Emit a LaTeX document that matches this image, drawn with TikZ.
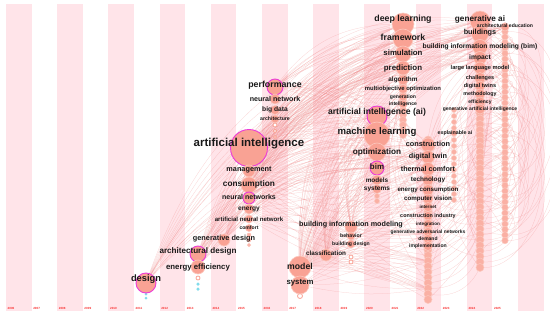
\documentclass[tikz,border=0pt]{standalone}
\usepackage{fontspec}
\setmainfont{Liberation Sans}

\pgfdeclarelayer{bg}
\pgfdeclarelayer{edges}
\pgfsetlayers{bg,edges,main}

\definecolor{stripe}{RGB}{255,228,233}
\definecolor{nodefill}{RGB}{249,162,148}
\definecolor{noderim}{RGB}{252,200,190}
\definecolor{burst}{RGB}{236,60,215}
\definecolor{linkc}{RGB}{242,140,140}
\definecolor{yearc}{RGB}{250,50,50}
\definecolor{cyanc}{RGB}{130,220,235}
\definecolor{txt}{RGB}{25,25,25}

\begin{document}
\begin{tikzpicture}[x=1pt, y=-1pt,
  kw/.style={circle, fill=nodefill, draw=noderim, line width=0.6pt, inner sep=0pt, minimum size=#1},
  hot/.style={circle, fill=nodefill, draw=burst, line width=0.9pt, inner sep=0pt, minimum size=#1},
  dot/.style={circle, fill=nodefill!85, draw=noderim, line width=0.5pt, inner sep=0pt, minimum size=#1},
  ring/.style={circle, fill=white, draw=nodefill, line width=0.8pt, inner sep=0pt, minimum size=#1},
  cold/.style={circle, fill=cyanc, inner sep=0pt, minimum size=#1},
  lbl/.style={inner sep=0pt, text=txt, font=\bfseries\fontsize{#1}{#1}\selectfont},
  link/.style={draw=linkc, line width=0.25pt, opacity=0.4},
  year/.style={anchor=west, inner sep=0pt, text=yearc, font=\bfseries\fontsize{3}{3}\selectfont}
]
\useasboundingbox (0,0) rectangle (550,316);

% Time zones
\begin{pgfonlayer}{bg}
\fill[white] (0,0) rectangle (550,316);
\foreach \k in {0,2,...,20}
  \fill[stripe] ({6+25.6*\k},4) rectangle ({31.6+25.6*\k},311);
\end{pgfonlayer}

\foreach \k in {0,...,19} {
  \pgfmathtruncatemacro{\yr}{2006+\k}
  \node[year] (yr\k) at ({7.5+25.6*\k},308) {\yr};
}

% Stacks of small keywords
\foreach \i in {0,...,12}
  \node[dot=7pt] (c21-\i) at (403,{75+5*\i}) {};
\foreach \i in {0,...,29}
  \node[dot=8pt] (c22-\i) at (428,{140+5.5*\i}) {};
\foreach \i in {0,...,15}
  \node[dot=5pt] (c23-\i) at (454,{110+6*\i}) {};
\foreach \i in {0,...,45}
  \node[dot=8pt] (c24-\i) at (480,{20+5.5*\i}) {};
\foreach \i in {0,...,39}
  \node[dot=6.5pt] (c25-\i) at (505,{26+5.5*\i}) {};

\node[cold=3pt] (d11-1) at (146,294) {};
\node[cold=3pt] (d11-2) at (146,298) {};
\node[ring=4pt] (d13-1) at (198,278) {};
\node[cold=3.5pt] (d13-2) at (198,284) {};
\node[cold=3.5pt] (d13-3) at (198,289) {};
\node[dot=4pt] (d15-1) at (249,235) {};
\node[dot=4pt] (d15-2) at (249,240) {};
\node[dot=3.5pt] (d15-3) at (249,245) {};
\node[ring=4pt] (d16-1) at (275,125) {};
\node[ring=3.5pt] (d16-2) at (275,131) {};
\node[ring=3pt] (d16-3) at (275,137) {};
\node[ring=5pt] (d17-1) at (300,296) {};
\node[ring=4pt] (d19-1) at (351,257) {};
\node[ring=4pt] (d19-2) at (351,262) {};
\node[dot=5pt] (d20-1) at (377,196) {};
\node[dot=5pt] (d20-2) at (377,201) {};

% Keywords
\node[hot=20pt] (design) at (146,283) {};
\node[hot=16pt] (archd) at (198,254) {};
\node[kw=14pt] (eneff) at (198,267) {};
\node[kw=12pt] (gend) at (224,240) {};
\node[hot=37pt] (ai) at (249,148) {};
\node[kw=12pt] (mgmt) at (249,171) {};
\node[kw=16pt] (cons) at (249,185) {};
\node[hot=12pt] (nns) at (249,198) {};
\node[kw=10pt] (energy) at (249,209) {};
\node[kw=8pt] (ann) at (249,219) {};
\node[kw=7pt] (comfort) at (249,228) {};
\node[hot=16pt] (perf) at (275,87) {};
\node[kw=10pt] (nn) at (275,99) {};
\node[kw=9pt] (bigdata) at (275,110) {};
\node[kw=8pt] (arch) at (275,119) {};
\node[kw=22pt] (model) at (300,267) {};
\node[kw=18pt] (system) at (300,285) {};
\node[kw=12pt] (class) at (326,255) {};
\node[kw=12pt] (bimod) at (351,227) {};
\node[kw=8pt] (behav) at (351,236) {};
\node[kw=8pt] (bdes) at (351,244) {};
\node[hot=20pt] (aiai) at (377,116) {};
\node[kw=26pt] (ml) at (377,135) {};
\node[kw=18pt] (opt) at (377,152) {};
\node[hot=14pt] (bim) at (377,168) {};
\node[kw=10pt] (models) at (377,180) {};
\node[kw=9pt] (systems) at (377,189) {};
\node[kw=22pt] (dl) at (403,24) {};
\node[kw=20pt] (frame) at (403,39) {};
\node[kw=16pt] (sim) at (403,54) {};
\node[kw=14pt] (pred) at (403,68) {};
\node[kw=10pt] (algo) at (403,80) {};
\node[kw=9pt] (multi) at (403,89) {};
\node[kw=8pt] (gen) at (403,97) {};
\node[kw=8pt] (intel) at (403,104) {};
\node[kw=14pt] (constr) at (428,145) {};
\node[kw=13pt] (dtwin) at (428,157) {};
\node[kw=13pt] (therm) at (428,169) {};
\node[kw=11pt] (tech) at (428,180) {};
\node[kw=11pt] (encons) at (428,190) {};
\node[kw=10pt] (cv) at (428,199) {};
\node[kw=9pt] (internet) at (428,207) {};
\node[kw=9pt] (cind) at (428,216) {};
\node[kw=9pt] (integ) at (428,224) {};
\node[kw=9pt] (gan) at (428,232) {};
\node[kw=9pt] (demand) at (428,239) {};
\node[kw=9pt] (impl) at (428,246) {};
\node[kw=6pt] (xai) at (454,133) {};
\node[kw=20pt] (genai) at (480,21) {};
\node[kw=17pt] (bldg) at (480,34) {};
\node[kw=15pt] (bimb) at (480,47) {};
\node[kw=13pt] (impact) at (480,58) {};
\node[kw=12pt] (llm) at (480,68) {};
\node[kw=11pt] (chall) at (480,78) {};
\node[kw=10pt] (dtwins) at (480,86) {};
\node[kw=10pt] (meth) at (480,94) {};
\node[kw=10pt] (effic) at (480,102) {};
\node[kw=10pt] (gai) at (480,109) {};
\node[kw=8pt] (archedu) at (505,27) {};

% Labels
\node[lbl=9.3] (design-t) at (146,279) {design};
\node[lbl=8.1] (archd-t) at (198,251) {architectural design};
\node[lbl=7.8] (eneff-t) at (198,267) {energy efficiency};
\node[lbl=7.3] (gend-t) at (224,239) {generative design};
\node[lbl=11.5] (ai-t) at (249,144) {artificial intelligence};
\node[lbl=7.3] (mgmt-t) at (249,170) {management};
\node[lbl=8.3] (cons-t) at (249,184) {consumption};
\node[lbl=7] (nns-t) at (249,197) {neural networks};
\node[lbl=6.6] (energy-t) at (249,209) {energy};
\node[lbl=6.1] (ann-t) at (249,219) {artificial neural network};
\node[lbl=5.1] (comfort-t) at (249,228) {comfort};
\node[lbl=8.8] (perf-t) at (275,85) {performance};
\node[lbl=7.1] (nn-t) at (275,99) {neural network};
\node[lbl=6.7] (bigdata-t) at (275,110) {big data};
\node[lbl=5.2] (arch-t) at (275,119) {architecture};
\node[lbl=8.7] (model-t) at (300,266) {model};
\node[lbl=7.8] (system-t) at (300,283) {system};
\node[lbl=6.3] (class-t) at (326,253) {classification};
\node[lbl=7.2] (bimod-t) at (351,225) {building information modeling};
\node[lbl=5.2] (behav-t) at (351,236) {behavior};
\node[lbl=5.1] (bdes-t) at (351,244) {building design};
\node[lbl=8.6] (aiai-t) at (377,112) {artificial intelligence (ai)};
\node[lbl=9.6] (ml-t) at (377,132) {machine learning};
\node[lbl=8.2] (opt-t) at (377,152) {optimization};
\node[lbl=7.9] (bim-t) at (377,167) {bim};
\node[lbl=6.4] (models-t) at (377,180) {models};
\node[lbl=6.5] (systems-t) at (377,189) {systems};
\node[lbl=8.8] (dl-t) at (403,19) {deep learning};
\node[lbl=8.8] (frame-t) at (403,37) {framework};
\node[lbl=7.8] (sim-t) at (403,53) {simulation};
\node[lbl=7.9] (pred-t) at (403,68) {prediction};
\node[lbl=6.4] (algo-t) at (403,80) {algorithm};
\node[lbl=5.9] (multi-t) at (403,89) {multiobjective optimization};
\node[lbl=5.1] (gen-t) at (403,97) {generation};
\node[lbl=5.1] (intel-t) at (403,104) {intelligence};
\node[lbl=7.3] (constr-t) at (428,144) {construction};
\node[lbl=7.3] (dtwin-t) at (428,157) {digital twin};
\node[lbl=7.1] (therm-t) at (428,169) {thermal comfort};
\node[lbl=6.4] (tech-t) at (428,180) {technology};
\node[lbl=6.2] (encons-t) at (428,190) {energy consumption};
\node[lbl=6.2] (cv-t) at (428,199) {computer vision};
\node[lbl=4.6] (internet-t) at (428,207) {internet};
\node[lbl=5.4] (cind-t) at (428,216) {construction industry};
\node[lbl=4.6] (integ-t) at (428,224) {integration};
\node[lbl=4.9] (gan-t) at (428,232) {generative adversarial networks};
\node[lbl=5] (demand-t) at (428,239) {demand};
\node[lbl=5.1] (impl-t) at (428,246) {implementation};
\node[lbl=5.3] (xai-t) at (455,133) {explainable ai};
\node[lbl=8.2] (genai-t) at (480,19) {generative ai};
\node[lbl=7.3] (bldg-t) at (480,33) {buildings};
\node[lbl=6.7] (bimb-t) at (480,47) {building information modeling (bim)};
\node[lbl=6.7] (impact-t) at (480,58) {impact};
\node[lbl=5.7] (llm-t) at (480,68) {large language model};
\node[lbl=5.5] (chall-t) at (480,78) {challenges};
\node[lbl=5.6] (dtwins-t) at (480,86) {digital twins};
\node[lbl=5.3] (meth-t) at (480,94) {methodology};
\node[lbl=5] (effic-t) at (480,102) {efficiency};
\node[lbl=5] (gai-t) at (480,109) {generative artificial intelligence};
\node[lbl=5.1] (archedu-t) at (505,26) {architectural education};

% Co-occurrence links
\begin{pgfonlayer}{edges}
\foreach \s in {design,archd,eneff,gend,ai,mgmt,cons,nns,perf,model,system,class,bimod}
  \foreach \t in {aiai,ml,opt,bim,dl,frame,sim,pred,constr,dtwin,therm,genai,bldg,bimb,impact,archedu}
    \draw[link] (\s) to[bend left=25] (\t);
\foreach \s in {mgmt,cons,nns,energy,ann,class,bimod,system,model}
  \foreach \i in {2,7,...,27}
    \draw[link] (\s) to[bend right=10] (c22-\i);
\foreach \i in {0,...,29} {
  \pgfmathtruncatemacro{\j}{mod(3*\i+7,46)}
  \pgfmathtruncatemacro{\k}{mod(5*\i+3,40)}
  \draw[link] (c22-\i) to[bend right=35] (c24-\j);
  \draw[link] (c22-\i) to[bend left=30] (c25-\k);
  \draw[link] (model) to[bend left=15] (c22-\i);
}
\foreach \i in {0,...,45} {
  \pgfmathtruncatemacro{\k}{mod(7*\i+11,40)}
  \pgfmathtruncatemacro{\m}{mod(11*\i+5,40)}
  \draw[link] (c24-\i) to[bend left=45] (c25-\k);
  \draw[link] (c24-\i) to[out=0, in=0, looseness=1.1] (c25-\m);
}
\foreach \i in {0,...,12} {
  \pgfmathtruncatemacro{\j}{mod(4*\i+2,30)}
  \draw[link] (c21-\i) to[bend right=30] (c22-\j);
  \draw[link] (ai) to[bend left=20] (c21-\i);
}
\end{pgfonlayer}

\end{tikzpicture}
\end{document}
